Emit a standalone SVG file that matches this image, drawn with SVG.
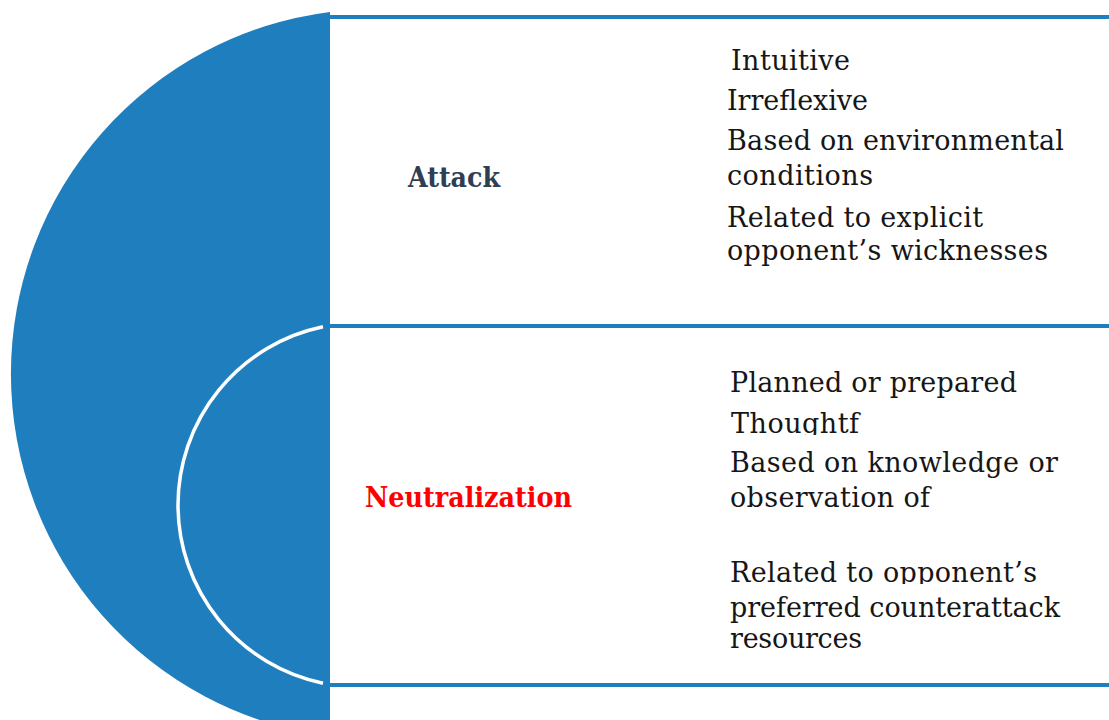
<svg xmlns="http://www.w3.org/2000/svg" width="1109" height="720" viewBox="0 0 1109 720">
<style>
.blue{fill:#1f7fbe}
.rule{stroke:#1f7fbe;stroke-width:4;fill:none}
.body{font-family:"DejaVu Serif","Liberation Serif",serif;font-size:27px;fill:#161616}
.head{font-family:"DejaVu Serif","Liberation Serif",serif;font-size:27px;font-weight:bold}
</style>
<defs>
<clipPath id="c1"><rect x="700" y="190" width="409" height="40"/></clipPath>
<clipPath id="c2"><rect x="700" y="400" width="409" height="35"/></clipPath>
<clipPath id="c3"><rect x="700" y="550" width="409" height="34"/></clipPath>
</defs>
<rect width="1109" height="720" fill="#ffffff"/>
<g id="semicircle">
<path class="blue" d="M330,11.9 A365,365 0 0 0 330,736.1 Z"/>
<rect class="blue" x="323" y="14" width="7" height="706"/>
<path d="M323,326.8 A182,182 0 0 0 323,683.2" fill="none" stroke="#ffffff" stroke-width="3.5"/>
</g>
<g id="connectors">
<line class="rule" x1="325" y1="17" x2="1109" y2="17"/>
<line class="rule" x1="330" y1="326" x2="1109" y2="326"/>
<line class="rule" x1="330" y1="685" x2="1109" y2="685"/>
</g>
<g id="attack">
<text class="head" x="408" y="187" fill="#2f3e52" textLength="92" lengthAdjust="spacingAndGlyphs">Attack</text>
<text class="body" x="731" y="70" textLength="119">Intuitive</text>
<text class="body" x="727" y="110" textLength="141">Irreflexive</text>
<text class="body" x="727" y="150" textLength="337">Based on environmental</text>
<text class="body" x="727" y="185" textLength="146">conditions</text>
<text class="body" x="727" y="227" textLength="256" clip-path="url(#c1)">Related to explicit</text>
<text class="body" x="727" y="260" textLength="321">opponent’s wicknesses</text>
</g>
<g id="neutralization">
<text class="head" x="365" y="507" fill="#ff0000" textLength="207" lengthAdjust="spacingAndGlyphs">Neutralization</text>
<text class="body" x="730" y="392" textLength="287">Planned or prepared</text>
<text class="body" x="731" y="433" textLength="128" clip-path="url(#c2)">Thoughtf</text>
<text class="body" x="730" y="472" textLength="328">Based on knowledge or</text>
<text class="body" x="730" y="507" textLength="200">observation of</text>
<text class="body" x="730" y="582" textLength="307" clip-path="url(#c3)">Related to opponent’s</text>
<text class="body" x="730" y="617" textLength="330">preferred counterattack</text>
<text class="body" x="730" y="648" textLength="132">resources</text>
</g>
</svg>
